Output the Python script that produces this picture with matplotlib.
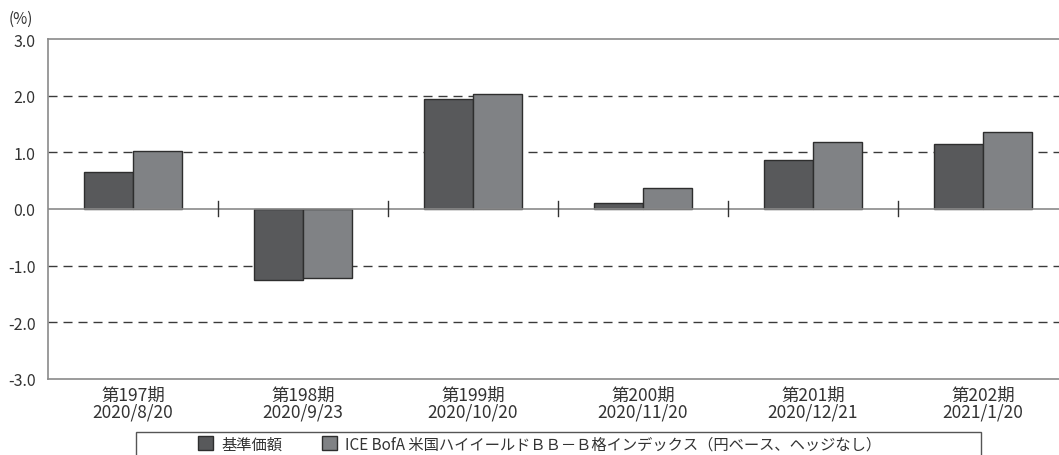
import matplotlib
matplotlib.use("Agg")
import matplotlib.pyplot as plt
from matplotlib.patches import Rectangle, Patch
import numpy as np

plt.rcParams['font.family'] = ['Noto Sans CJK JP', 'DejaVu Sans']

periods = ["第197期", "第198期", "第199期", "第200期", "第201期", "第202期"]
dates = ["2020/8/20", "2020/9/23", "2020/10/20", "2020/11/20", "2020/12/21", "2021/1/20"]
fund = [0.65, -1.25, 1.94, 0.10, 0.86, 1.15]
index = [1.02, -1.21, 2.03, 0.37, 1.19, 1.36]
series_names = ["基準価額", "ICE BofA 米国ハイイールドＢＢ－Ｂ格インデックス（円ベース、ヘッジなし）"]
yticks = [3.0, 2.0, 1.0, 0.0, -1.0, -2.0, -3.0]

W, H = 1059, 456
fig = plt.figure(figsize=(W / 100, H / 100), dpi=100)
ax = fig.add_axes([48 / W, 76 / H, 1020 / W, 340 / H])

dark = "#58595b"
light = "#808285"
edge = "#2e2e2e"
spine_c = "#8a8a8a"
text_c = "#333333"

n = len(periods)
x = np.arange(n)
bw = 0.29
ax.bar(x - bw / 2, fund, bw, color=dark, edgecolor=edge, linewidth=1.0, zorder=3)
ax.bar(x + bw / 2, index, bw, color=light, edgecolor=edge, linewidth=1.0, zorder=3)

ax.set_xlim(-0.5, n - 0.5)
ax.set_ylim(-3.0, 3.0)

# dashed gridlines
for v in yticks:
    if v in (3.0, 0.0, -3.0):
        continue
    ax.axhline(v, color="#3a3a3a", linewidth=1.0, dashes=(6.5, 4.3), zorder=1)
ax.axhline(0, color=spine_c, linewidth=1.2, zorder=4)

# separators between periods on the zero line
for b in np.arange(0.5, n - 0.5, 1.0):
    ax.plot([b, b], [-0.13, 0.14], color="#333333", linewidth=1.0, zorder=4)

ax.set_yticks(yticks)
ax.set_yticklabels([f"{v:.1f}" for v in yticks], fontsize=11.5, color=text_c)
ax.set_xticks(x)
ax.set_xticklabels([f"{p}\n{d}" for p, d in zip(periods, dates)],
                   fontsize=12.5, color=text_c, linespacing=0.92)
ax.tick_params(axis="both", length=0)
ax.tick_params(axis="y", pad=9)
ax.tick_params(axis="x", pad=5)

for s in ("left", "top", "bottom"):
    ax.spines[s].set_color(spine_c)
    ax.spines[s].set_linewidth(1.2)
ax.spines["right"].set_visible(False)

fig.text(9 / W, 1 - 19 / H, "(%)", fontsize=11, color=text_c, va="center", ha="left")

# legend box
fig.patches.append(Rectangle((136 / W, -0.05), (981 - 136) / W, (456 - 433) / H + 0.05,
                             transform=fig.transFigure, fill=False,
                             edgecolor="#555555", linewidth=1.0))
handles = [Patch(facecolor=dark, edgecolor=edge, linewidth=1.0),
           Patch(facecolor=light, edgecolor=edge, linewidth=1.0)]
fig.legend(handles, series_names, loc="center left", bbox_to_anchor=(198 / W, 1 - 445 / H),
           ncol=2, frameon=False, fontsize=11, handlelength=1.0, handleheight=1.0,
           handletextpad=0.5, columnspacing=2.6, borderpad=0, borderaxespad=0,
           labelcolor=text_c)

fig.savefig("out.png", dpi=100)
